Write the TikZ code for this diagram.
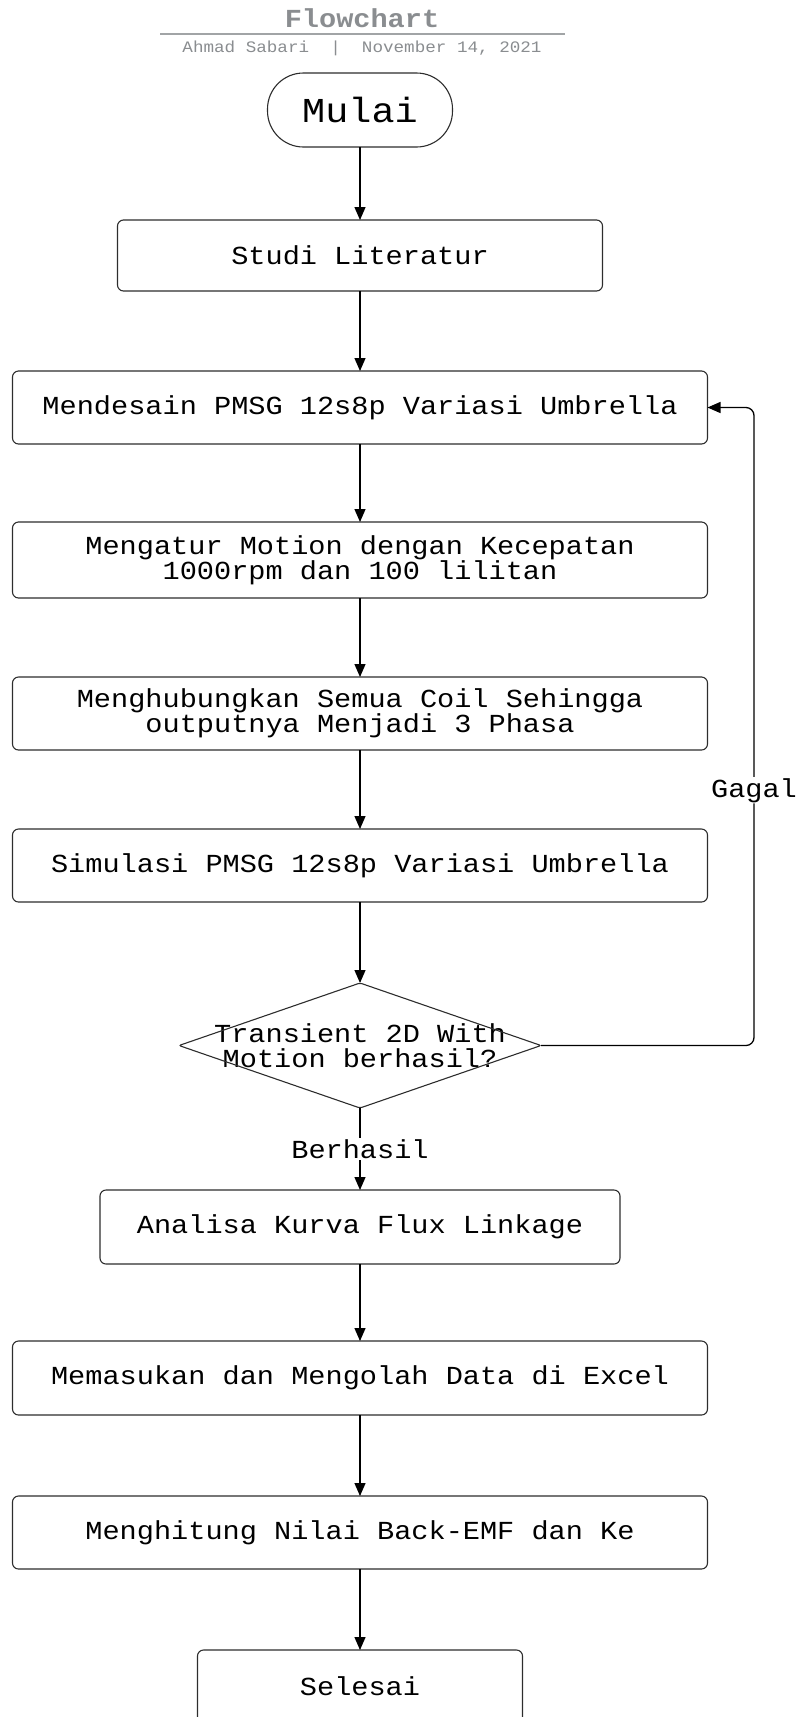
\documentclass[tikz,border=0pt]{standalone}
\usepackage{fontspec}
\usepackage{xcolor}
\usepackage{tikz}
\usetikzlibrary{arrows.meta,positioning}
\newfontfamily\flowmono{Liberation Mono}[FakeStretch=1.1]
\newcommand{\boxfont}{\flowmono\fontsize{26}{25}\selectfont}
\definecolor{hdrgray}{RGB}{138,141,144}
\definecolor{edge}{RGB}{45,45,45}

\begin{document}
\begin{tikzpicture}[
  box/.style={
    draw=edge, line width=1.1pt, rounded corners=6pt,
    minimum width=695pt, minimum height=73pt, inner sep=0pt, outer sep=0pt,
    align=center, font=\boxfont
  },
  term/.style={box, rounded corners=36pt, minimum width=185pt,
    minimum height=74pt, font=\flowmono\fontsize{35}{35}\selectfont},
  lnk/.style={-{Triangle[length=13pt,width=11pt]}, line width=1.3pt},
  lbl/.style={fill=white, inner sep=1pt, font=\boxfont},
]
\useasboundingbox (0,0) rectangle (796pt,-1717pt);

%% header
\node[text=hdrgray, font=\flowmono\bfseries\fontsize{26}{26}\selectfont]
  (ttl) at (362pt,-18pt) {Flowchart};
\draw[hdrgray!80, line width=1.2pt] (160pt,-34pt) -- (565pt,-34pt);
\node[text=hdrgray, font=\flowmono\fontsize{16}{16}\selectfont]
  (sub) at (362pt,-48pt) {Ahmad Sabari\ \ |\ \ November 14, 2021};

%% steps
\node[term] (start) at (360pt,-110pt) {Mulai};

\node[box, minimum width=485pt, minimum height=71pt, below=73pt of start] (lit)
  {Studi Literatur};

\node[box, below=80pt of lit] (des)
  {Mendesain PMSG 12s8p Variasi Umbrella};

\node[box, minimum height=76pt, below=78pt of des] (mot)
  {Mengatur Motion dengan Kecepatan\\ 1000rpm dan 100 lilitan};

\node[box, below=79pt of mot] (coil)
  {Menghubungkan Semua Coil Sehingga\\ outputnya Menjadi 3 Phasa};

\node[box, below=79pt of coil] (sim)
  {Simulasi PMSG 12s8p Variasi Umbrella};

\node[font=\boxfont, align=center, inner sep=0pt, outer sep=0pt,
  minimum width=362pt, minimum height=125pt, below=81pt of sim] (dec)
  {Transient 2D With\\Motion berhasil?};
\draw[edge, line width=1.1pt, rounded corners=2pt]
  (dec.north) -- (dec.east) -- (dec.south) -- (dec.west) -- cycle;

\node[box, minimum width=520pt, minimum height=74pt, below=82pt of dec] (flux)
  {Analisa Kurva Flux Linkage};

\node[box, minimum height=74pt, below=77pt of flux] (xls)
  {Memasukan dan Mengolah Data di Excel};

\node[box, below=81pt of xls] (emf)
  {Menghitung Nilai Back-EMF dan Ke};

\node[box, minimum width=325pt, below=81pt of emf] (stop)
  {Selesai};

%% connectors
\draw[lnk] (start) -- (lit);
\draw[lnk] (lit) -- (des);
\draw[lnk] (des) -- (mot);
\draw[lnk] (mot) -- (coil);
\draw[lnk] (coil) -- (sim);
\draw[lnk] (sim) -- (dec.north);
\draw[lnk] (dec.south) -- node[lbl] {Berhasil} (flux);
\draw[lnk] (flux) -- (xls);
\draw[lnk] (xls) -- (emf);
\draw[lnk] (emf) -- (stop);

%% loop back
\draw[lnk, rounded corners=8pt] (dec.east) -- ++(213pt,0)
  |- node[lbl, pos=0.2] {Gagal} (des.east);
\end{tikzpicture}
\end{document}
